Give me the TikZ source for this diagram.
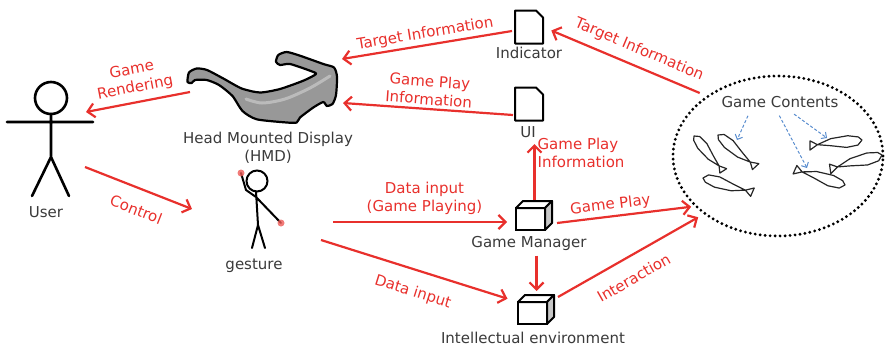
\documentclass[tikz,border=0pt]{standalone}
\usepackage{fontspec}
\setmainfont{DejaVu Sans}
\usetikzlibrary{arrows.meta, shapes.geometric}
\definecolor{flowred}{RGB}{232,48,44}
\definecolor{inkgray}{RGB}{58,58,58}
\definecolor{linkblue}{RGB}{88,140,206}
\definecolor{lensgray}{RGB}{152,152,152}
\tikzset{
    flow/.style={draw=flowred, line width=2.2pt, -{Straight Barb[length=7pt,width=14pt]}},
    backflow/.style={draw=flowred, line width=2.2pt, {Straight Barb[length=7pt,width=14pt]}-},
    flowlabel/.style={text=flowred, font=\fontsize{15}{18}\selectfont, align=center, inner sep=2pt},
    caption/.style={text=inkgray, font=\fontsize{15}{18}\selectfont, align=center},
    link/.style={draw=linkblue, line width=1pt, dash pattern=on 3pt off 2pt, -{Straight Barb[length=4pt,width=8pt]}},
    doc/.style={minimum width=28pt, minimum height=33pt, inner sep=0pt, outer sep=0pt},
    cube/.style={draw, fill=white, line width=2pt, minimum width=29pt, minimum height=22pt, inner sep=0pt, outer sep=0pt},
    stick/.style={line width=2.6pt, line cap=round},
    fish/.pic={
        \draw[line width=1.2pt, black!85, line join=round]
            (0,0) -- (4,-4) -- (14,-5) -- (28,-2) -- (39,0) -- (46,-4) -- (45,4) -- (39,0)
            -- (27,4) -- (12,5) -- (3,3) -- cycle;
    }
}
% outline of a page with a folded corner round a doc node
\newcommand\docpage[1]{%
    \draw[line width=2pt, line join=round] (#1.north west) -- ([xshift=-7pt]#1.north east)
        -- ([yshift=-7pt]#1.north east) -- (#1.south east) -- (#1.south west) -- cycle;
}
% top and side faces behind a cube node
\newcommand\cubefaces[1]{%
    \draw[line width=2pt, line join=round, fill=white] (#1.north west) -- ++(7,-7) -- ++(29,0) -- (#1.north east) -- cycle;
    \draw[line width=2pt, line join=round, fill=black!22] (#1.north east) -- ++(7,-7) -- ++(0,22) -- (#1.south east) -- cycle;
}

\begin{document}
\begin{tikzpicture}[x=1pt, y=-1pt]
    \useasboundingbox (0,0) rectangle (886,346);

    % user
    \draw[stick] (51,98) circle[radius=16];
    \draw[stick] (7,122) -- (93,122) (51,114) -- (51,157) -- (32,196) (51,157) -- (69,196);
    \node[caption] (userl) at (46,212) {User};
    \coordinate (user-in) at (86,112);
    \coordinate (user-out) at (85,167);

    % head mounted display
    \draw[line width=2.2pt, line join=round, fill=lensgray] plot[smooth cycle, tension=.4] coordinates {
        (187.5,82) (189,72.5) (196.7,68.5) (207,70) (223.3,78.5) (241.7,88.5) (260,92.5)
        (280,89) (303.3,80.7) (316,74) (310,70.7) (290,64) (280,65) (276,61.7) (278.3,55)
        (286.7,52) (300,55.7) (323.3,64) (334,67.5) (337,76.7) (336,95) (332.5,104)
        (326.7,106) (323.3,102) (313.3,107.5) (300,117.5) (296.7,122.5) (286.7,122.5)
        (256.7,119.3) (242.5,111) (232.5,96) (219,85) (206.7,80) (195,80) (191.7,83)};
    \draw[white, line width=3pt, opacity=.35, line cap=round] plot[smooth, tension=.5]
        coordinates {(246,99) (262,103) (285,99) (310,88) (330,76)};
    \node[caption] (hmdl) at (268,148) {Head Mounted Display\\(HMD)};
    \coordinate (hmd-out) at (190,92);
    \coordinate (hmd-in1) at (342,59);
    \coordinate (hmd-in2) at (343,103);

    % gesture
    \draw[stick, line width=2pt] (257,181) circle[radius=10.5];
    \draw[stick, line width=2pt] (241,173) -- (246,190) -- (256,197) -- (281,223)
        (256,191.5) -- (258,225) -- (252,248) (258,225) -- (265,248);
    \fill[flowred!80, opacity=.8] (241,173) circle[radius=3.5] (281,223) circle[radius=3.5];
    \node[caption] (gestl) at (254,266) {gesture};
    \coordinate (gest-in) at (192,209);
    \coordinate (gest-out1) at (333,222);
    \coordinate (gest-out2) at (321,240);

    % documents and managers
    \node[doc] (ind) at (529,27) {};
    \docpage{ind}
    \node[caption] (indl) at (529,53) {Indicator};
    \node[doc] (ui) at (529,104) {};
    \docpage{ui}
    \node[caption] (uil) at (528,132) {UI};
    \node[cube] (gm) at (530.5,219) {};
    \cubefaces{gm}
    \node[caption] (gml) at (529,243) {Game Manager};
    \node[cube] (ie) at (532.5,313) {};
    \cubefaces{ie}
    \node[caption] (iel) at (533,338) {Intellectual environment};

    % game contents
    \node[draw, ellipse, line width=3.2pt, dash pattern=on 0pt off 5pt, line cap=round,
        minimum width=210pt, minimum height=160pt] (contents) at (778,156) {};
    \node[caption] (gcl) at (780,102) {Game Contents};
    \pic[rotate=-50] at (694,136) {fish};
    \pic[rotate=-40, scale=1.08] at (718,135) {fish};
    \pic[rotate=-16, scale=1.13] at (703,178) {fish};
    \pic[rotate=-174, scale=1.15] at (862,140) {fish};
    \pic[rotate=-165, scale=1.18] at (882,155) {fish};
    \pic[rotate=163, scale=1.15] at (845,185) {fish};
    \coordinate (fish-b) at (737,140);
    \coordinate (fish-d) at (827,138);
    \coordinate (fish-f) at (807,168);
    \draw[link, shorten <=5pt] ([xshift=-30pt]gcl.south) -- (fish-b);
    \draw[link, shorten <=5pt] ([xshift=-3pt]gcl.south) -- (fish-f);
    \draw[link, shorten <=5pt] ([xshift=10pt]gcl.south) -- (fish-d);

    % flows
    \draw[backflow] (user-in) -- (hmd-out) node[flowlabel, midway, sloped, above=4pt] {Game\\Rendering};
    \draw[flow] (user-out) -- (gest-in) node[flowlabel, pos=.55, sloped, below=12pt] {Control};
    \draw[backflow] (hmd-in1) -- ([xshift=-3pt,yshift=-4pt]ind.west)
        node[flowlabel, midway, sloped, above=1pt] {Target Information};
    \draw[backflow] (hmd-in2) -- ([xshift=-2pt,yshift=-11pt]ui.west)
        node[flowlabel, midway, sloped, above=1pt] {Game Play\\Information};
    \draw[backflow, shorten <=9pt, shorten >=7pt] (ind.east) -- (contents.140)
        node[flowlabel, pos=.55, sloped, above=6pt] {Target Information};
    \draw[flow, shorten >=9pt] (gest-out1) -- (gest-out1 -| gm.west)
        node[flowlabel, midway, above=4pt] {Data input\\(Game Playing)};
    \draw[flow, shorten >=11pt] (gest-out2) -- (ie.north west)
        node[flowlabel, midway, sloped, below=12pt] {Data input};
    \coordinate (gm-top) at ([xshift=4pt,yshift=8pt]gm.north);
    \draw[flow, shorten >=3pt] (gm-top) -- (gm-top |- uil.south)
        node[flowlabel, pos=.8, right, align=left] {Game Play\\Information};
    \coordinate (ie-top) at ([xshift=4pt,yshift=9pt]ie.north);
    \draw[flow, shorten <=2pt, shorten >=2pt] (gml.south -| ie-top) -- (ie-top);
    \draw[flow, shorten >=3pt] ([xshift=12pt,yshift=-4pt]gm.east) -- (contents.211)
        node[flowlabel, pos=.4, sloped, above=1pt] {Game Play};
    \draw[flow, shorten >=6pt] ([xshift=11pt,yshift=5pt]ie.north east) -- (contents.218)
        node[flowlabel, pos=.45, sloped, below=12pt] {Interaction};
\end{tikzpicture}
\end{document}
